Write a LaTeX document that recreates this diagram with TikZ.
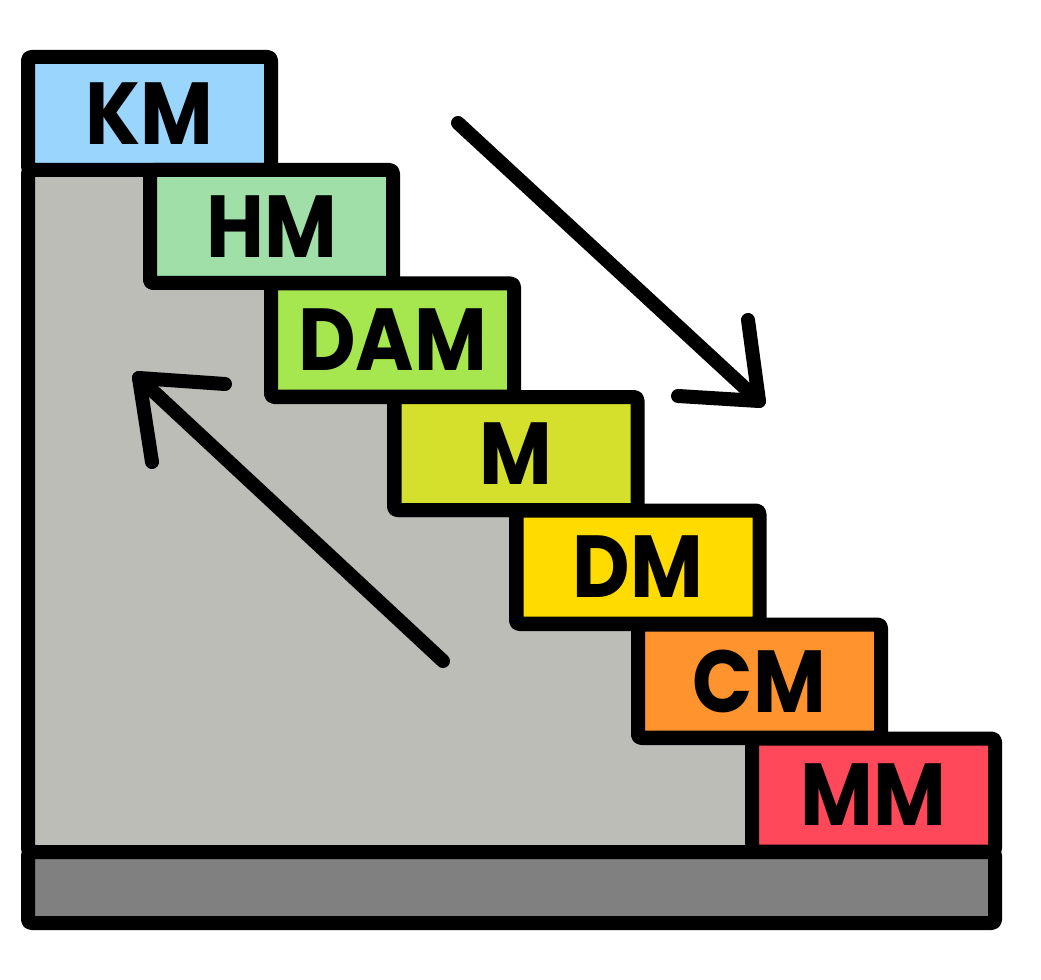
\documentclass[tikz,border=0pt]{standalone}
\usepackage{fontspec}
\setmainfont{Poppins}[FakeStretch=0.9]
\definecolor{kmc}{HTML}{99D5FD}
\definecolor{hmc}{HTML}{A0E0A8}
\definecolor{damc}{HTML}{A6E74F}
\definecolor{mc}{HTML}{D4E02C}
\definecolor{dmc}{HTML}{FFDB00}
\definecolor{cmc}{HTML}{FF932E}
\definecolor{mmc}{HTML}{FF4859}
\definecolor{wallc}{HTML}{BCBDB7}
\definecolor{basec}{HTML}{808080}
\tikzset{
  outl/.style={draw=black, line width=10.5pt, line join=round, line cap=round},
  stepbox/.style={outl, rectangle, rounded corners=2.5pt, minimum width=182.25pt, minimum height=84.75pt, inner sep=0pt, outer sep=0pt, font=\fontsize{66}{66}\selectfont\bfseries},
  arr/.style={draw=black, line width=10.5pt, line cap=round, line join=round}
}
\begin{document}
\begin{tikzpicture}[x=0.75pt,y=-0.75pt]
\useasboundingbox (0,0) rectangle (1041,980);
% wall
\path[outl, fill=wallc, rounded corners=2.5pt] (28,170) -- (150,170) -- (150,283) -- (271,283) -- (271,397) -- (394,397) -- (394,510) -- (516,510) -- (516,624) -- (638,624) -- (638,738) -- (752,738) -- (752,852) -- (28,852) -- cycle;
% base
\path[outl, fill=basec, rounded corners=2.5pt] (28,852) rectangle (995,923);
% steps
\node[stepbox, fill=kmc] (km) at (149.5,113.5) {KM};
\node[stepbox, fill=hmc] (hm) at (271.5,226.5) {HM};
\node[stepbox, fill=damc] (dam) at (392.5,340) {DAM};
\node[stepbox, fill=mc] (m) at (516,453.5) {M};
\node[stepbox, fill=dmc] (dm) at (638,567) {DM};
\node[stepbox, fill=cmc] (cm) at (759.5,681) {CM};
\node[stepbox, fill=mmc] (mm) at (873.5,795) {MM};
% down arrow
\coordinate (d0) at (458,123);
\coordinate (d1) at (759,401);
\coordinate (da) at (748,320);
\coordinate (db) at (678,396);
\path[arr] (d0) -- (d1);
\path[arr] (da) -- (d1) -- (db);
% up arrow
\coordinate (u0) at (443,661);
\coordinate (u1) at (139,378);
\coordinate (ua) at (152,462);
\coordinate (ub) at (225,384);
\path[arr] (u0) -- (u1);
\path[arr] (ua) -- (u1) -- (ub);
\end{tikzpicture}
\end{document}
